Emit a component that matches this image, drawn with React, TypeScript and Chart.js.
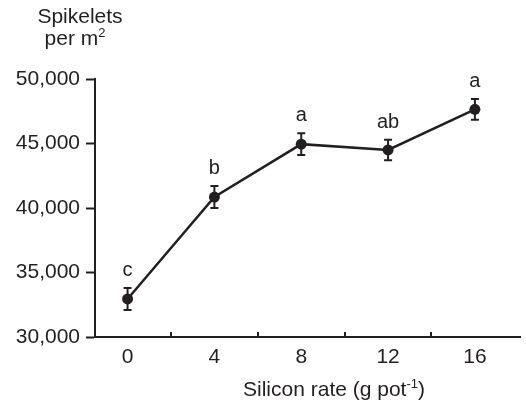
import React, { useEffect, useRef } from 'react';
import { Chart, registerables } from 'chart.js';

Chart.register(...registerables);

// ---- data ----
const siliconRates = [0, 4, 8, 12, 16];
const spikelets = [32950, 40850, 44950, 44500, 47650];
const stdErrors = [850, 850, 850, 800, 800];
const letters = ['c', 'b', 'a', 'ab', 'a'];
const xLabelTicks = [0, 4, 8, 12, 16];
const xTickMarks = [2, 6, 10, 14];
const yTickValues = [30000, 35000, 40000, 45000, 50000];

const INK = '#231f20';
const FONT = '"Liberation Sans", Arial, Helvetica, sans-serif';
const FS = 21;

const decorPlugin = {
  id: 'decor',
  afterDatasetsDraw(chart: any) {
    const ctx = chart.ctx;
    const xs = chart.scales.x;
    const ys = chart.scales.y;
    const area = chart.chartArea;
    ctx.save();
    ctx.strokeStyle = INK;
    ctx.fillStyle = INK;
    ctx.lineWidth = 2;
    // inward x tick marks
    xTickMarks.forEach((v) => {
      const px = Math.round(xs.getPixelForValue(v));
      ctx.beginPath();
      ctx.moveTo(px, area.bottom);
      ctx.lineTo(px, area.bottom - 5);
      ctx.stroke();
    });
    // error bars + letters
    ctx.font = `${FS - 1}px ${FONT}`;
    ctx.textAlign = 'center';
    ctx.textBaseline = 'alphabetic';
    siliconRates.forEach((r, i) => {
      const px = xs.getPixelForValue(r);
      const yt = ys.getPixelForValue(spikelets[i] + stdErrors[i]);
      const yb = ys.getPixelForValue(spikelets[i] - stdErrors[i]);
      ctx.lineWidth = 2;
      ctx.beginPath();
      ctx.moveTo(px, yt);
      ctx.lineTo(px, yb);
      ctx.moveTo(px - 4, yt);
      ctx.lineTo(px + 4, yt);
      ctx.moveTo(px - 4, yb);
      ctx.lineTo(px + 4, yb);
      ctx.stroke();
      ctx.fillText(letters[i], px, yt - 12);
    });
    ctx.restore();
  },
  afterDraw(chart: any) {
    const ctx = chart.ctx;
    ctx.save();
    ctx.fillStyle = INK;
    ctx.textBaseline = 'alphabetic';
    // x axis title with superscript
    const main = 'Silicon rate (g pot';
    const sup = '-1';
    const end = ')';
    const supFont = `${Math.round(FS * 0.6)}px ${FONT}`;
    ctx.font = `${FS}px ${FONT}`;
    const wMain = ctx.measureText(main).width;
    const wEnd = ctx.measureText(end).width;
    ctx.font = supFont;
    const wSup = ctx.measureText(sup).width;
    const total = wMain + wSup + wEnd;
    let x = 334 - total / 2;
    const base = 396;
    ctx.textAlign = 'left';
    ctx.font = `${FS}px ${FONT}`;
    ctx.fillText(main, x, base);
    x += wMain;
    ctx.font = supFont;
    ctx.fillText(sup, x, base - 8);
    x += wSup;
    ctx.font = `${FS}px ${FONT}`;
    ctx.fillText(end, x, base);

    // y axis title (two lines)
    ctx.textAlign = 'center';
    ctx.fillText('Spikelets', 80, 23);
    const l2 = 'per m';
    const w2 = ctx.measureText(l2).width;
    ctx.font = supFont;
    const w2s = ctx.measureText('2').width;
    const start = 75 - (w2 + w2s) / 2;
    ctx.textAlign = 'left';
    ctx.font = `${FS}px ${FONT}`;
    ctx.fillText(l2, start, 45);
    ctx.font = supFont;
    ctx.fillText('2', start + w2, 45 - 8);
    ctx.restore();
  },
};

export default function App() {
  const ref = useRef<HTMLCanvasElement | null>(null);

  useEffect(() => {
    if (!ref.current) return;
    const chart = new Chart(ref.current, {
      type: 'line',
      data: {
        datasets: [
          {
            data: siliconRates.map((r, i) => ({ x: r, y: spikelets[i] })),
            borderColor: INK,
            borderWidth: 2.5,
            backgroundColor: INK,
            pointBackgroundColor: INK,
            pointBorderWidth: 0,
            pointRadius: 5.5,
            tension: 0,
            clip: false as any,
          },
        ],
      },
      options: {
        responsive: false,
        animation: false,
        events: [],
        layout: { padding: { top: 79, right: 2, left: 0, bottom: 0 } },
        plugins: {
          legend: { display: false },
          tooltip: { enabled: false },
          title: { display: false },
        },
        scales: {
          x: {
            type: 'linear',
            min: -1.5,
            max: 18.1,
            afterBuildTicks: (s: any) => {
              s.ticks = xLabelTicks.map((v) => ({ value: v }));
            },
            afterFit: (s: any) => {
              s.height = 68;
            },
            ticks: {
              color: INK,
              font: { family: FONT, size: FS },
              padding: 8,
              maxRotation: 0,
              autoSkip: false,
              callback: (v: any) => String(v),
            },
            grid: { display: true, drawOnChartArea: false, drawTicks: false },
            border: { display: true, color: INK, width: 2 },
          },
          y: {
            type: 'linear',
            min: 30000,
            max: 50000,
            afterBuildTicks: (s: any) => {
              s.ticks = yTickValues.map((v) => ({ value: v }));
            },
            afterFit: (s: any) => {
              s.width = 95;
            },
            ticks: {
              color: INK,
              font: { family: FONT, size: FS },
              padding: 6,
              callback: (v: any) => Number(v).toLocaleString('en-US'),
            },
            grid: {
              display: true,
              drawOnChartArea: false,
              drawTicks: true,
              tickLength: 9,
              tickWidth: 2,
              tickColor: INK,
            },
            border: { display: true, color: INK, width: 2 },
          },
        },
      } as any,
      plugins: [decorPlugin],
    });
    return () => chart.destroy();
  }, []);

  return (
    <div style={{ position: 'fixed', left: 0, top: 0, width: 526, height: 405, background: '#fff' }}>
      <canvas ref={ref} width={526} height={405} style={{ display: 'block', width: 526, height: 405 }} />
    </div>
  );
}
